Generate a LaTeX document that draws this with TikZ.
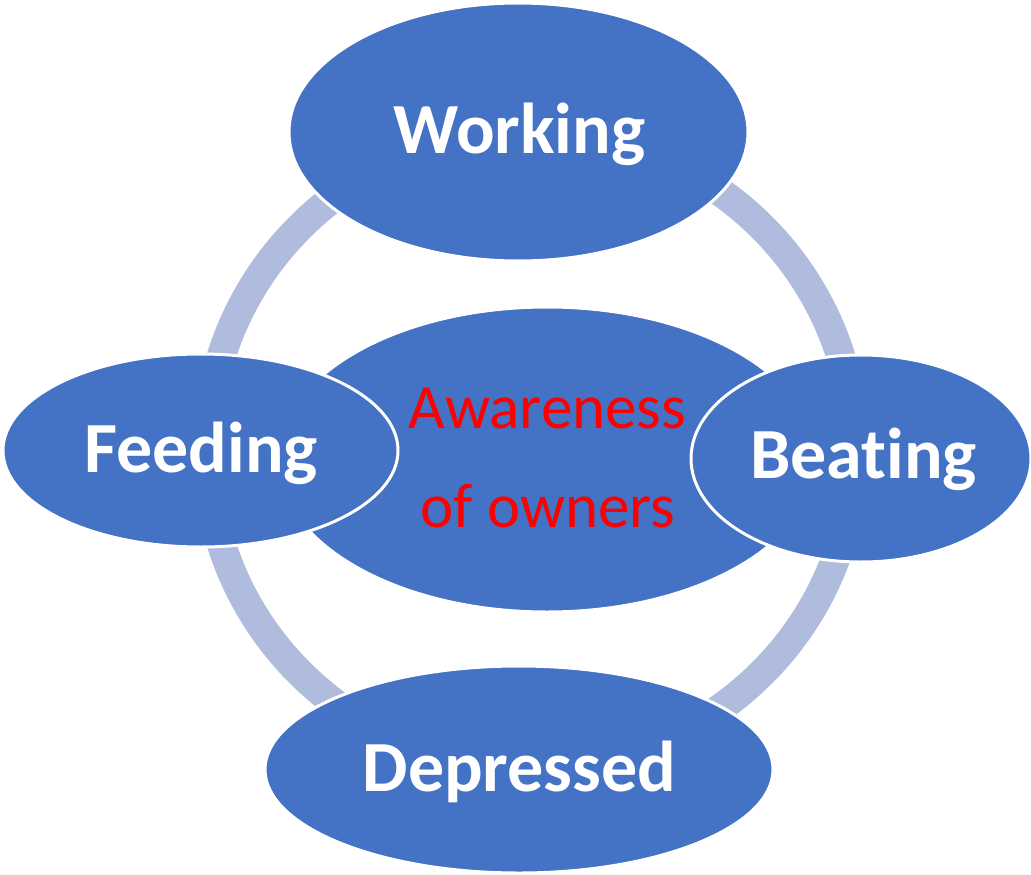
\documentclass[tikz,border=0pt]{standalone}
\usepackage{fontspec}
\setmainfont{Carlito}[Ligatures={NoCommon,NoRare,NoContextual}]
\usetikzlibrary{shapes.geometric}
\definecolor{blobblue}{HTML}{4472C4}
\definecolor{ringblue}{RGB}{175,188,221}
\definecolor{awred}{HTML}{FF0000}
\tikzset{
  blob/.style={ellipse, fill=blobblue, draw=white, line width=3pt, inner sep=0pt},
  blabel/.style={anchor=base, text=white, font=\fontsize{72}{86}\selectfont\bfseries, inner sep=0pt},
  clabel/.style={anchor=base, text=awred, font=\fontsize{63}{99}\selectfont, inner sep=0pt}
}
\begin{document}
\begin{tikzpicture}[x=1pt,y=-1pt]
\useasboundingbox (0,0) rectangle (1031,875);
% ring
\draw[ringblue, line width=29pt] (531,450) ellipse [x radius=324, y radius=318];
% ellipses
\node[blob, minimum width=538pt, minimum height=305pt] (center) at (547,459.5) {};
\node[blob, minimum width=459pt, minimum height=258pt] (working) at (518.5,132) {};
\node[blob, minimum width=508pt, minimum height=207pt] (depressed) at (519,769.5) {};
\node[blob, minimum width=395pt, minimum height=193pt] (feeding) at (200.5,450.5) {};
\node[blob, minimum width=340pt, minimum height=207pt] (beating) at (861,458.5) {};
% labels
\node[blabel] (tworking) at (519.5,153) {Working};
\node[blabel] (tfeeding) at (201,472) {Feeding};
\node[blabel] (tbeating) at (863.5,478) {Beat\kern0pt ing};
\node[blabel] (tdepressed) at (519.5,791) {Depressed};
\node[clabel] (taware) at (547.5,428) {Awareness};
\node[clabel] (towners) at (548,527) {of owners};
\end{tikzpicture}
\end{document}
